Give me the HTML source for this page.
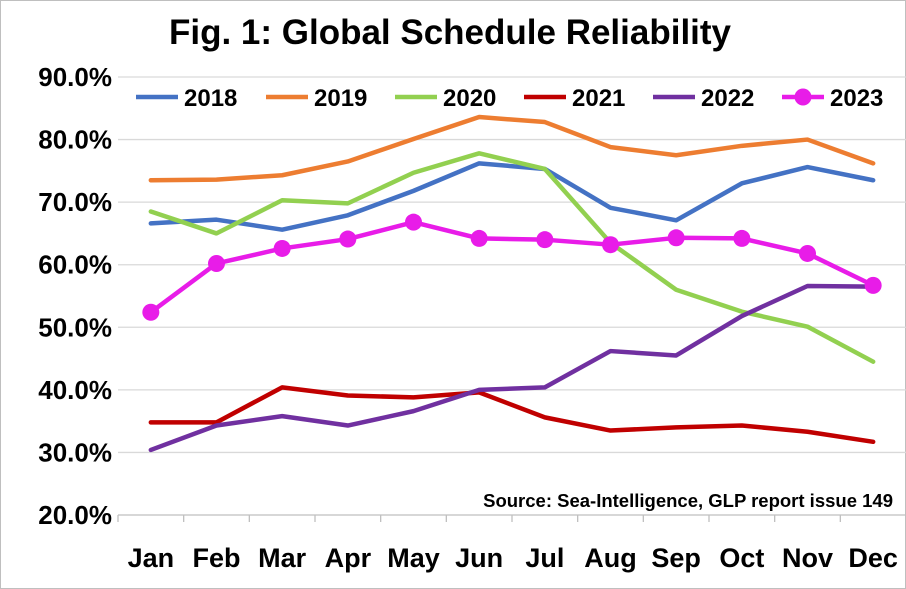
<!DOCTYPE html>
<html><head><meta charset="utf-8"><style>
html,body{margin:0;padding:0;background:#fff}
svg{display:block;font-family:"Liberation Sans",Arial,sans-serif}
</style></head><body>
<svg id="c" width="906" height="589" viewBox="0 0 906 589">
<rect x="0.5" y="0.5" width="905" height="588" fill="#fff" stroke="#bfbfbf"/>
<text x="450" y="44" text-anchor="middle" font-size="35" font-weight="bold" fill="#000">Fig. 1: Global Schedule Reliability</text>
<g id="grid"></g><g id="ylab"></g><g id="xlab"></g><g id="series"></g><g id="legend"></g>
<text x="893" y="507" text-anchor="end" font-size="18.5" font-weight="bold" fill="#000">Source: Sea-Intelligence, GLP report issue 149</text>
</svg>
<script>
const months=["Jan","Feb","Mar","Apr","May","Jun","Jul","Aug","Sep","Oct","Nov","Dec"];
const yTicks=[20,30,40,50,60,70,80,90];
const seriesNames=["2018","2019","2020","2021","2022","2023"];
const seriesColors=["#4472C4","#ED7D31","#92D050","#C00000","#7030A0","#E81CE8"];
const s2018=[66.6,67.2,65.6,67.9,71.8,76.2,75.3,69.1,67.1,73.0,75.6,73.5];
const s2019=[73.5,73.6,74.3,76.5,80.1,83.6,82.8,78.8,77.5,79.0,80.0,76.2];
const s2020=[68.5,65.0,70.3,69.8,74.7,77.8,75.3,63.5,56.0,52.5,50.1,44.5];
const s2021=[34.8,34.8,40.4,39.1,38.8,39.6,35.6,33.5,34.0,34.3,33.3,31.7];
const s2022=[30.4,34.3,35.8,34.3,36.6,40.0,40.4,46.2,45.5,51.8,56.6,56.5];
const s2023=[52.4,60.2,62.6,64.1,66.8,64.2,64.0,63.2,64.3,64.2,61.8,56.7];
const allSeries=[s2018,s2019,s2020,s2021,s2022,s2023];
const NS="http://www.w3.org/2000/svg";
const L=118,R=906,T=77,B=515;
const bw=(R-L)/months.length;
const x=i=>L+bw*(i+0.5);
const y=v=>B-(v-20)/70*(B-T);
function mk(tag,attrs,parent,txt){const e=document.createElementNS(NS,tag);for(const k in attrs)e.setAttribute(k,attrs[k]);if(txt!=null)e.textContent=txt;parent.appendChild(e);return e;}
const grid=document.getElementById('grid'),ylab=document.getElementById('ylab'),xlab=document.getElementById('xlab'),ser=document.getElementById('series'),leg=document.getElementById('legend');
yTicks.forEach(t=>{
 if(t>20){const g=mk('line',{x1:L,x2:R,y1:y(t),y2:y(t),stroke:'#d9d9d9','stroke-width':1.3},grid);
 
 }
 const tx=mk('text',{x:112,y:y(t)+9,'text-anchor':'end','font-size':26,'font-weight':'bold'},ylab,t.toFixed(1)+'%');
 
 
});
const ax=mk('line',{x1:L,x2:R,y1:B,y2:B,stroke:'#bfbfbf','stroke-width':1.3},grid);


months.forEach((m,i)=>{
 const tk=mk('line',{x1:L+bw*i,x2:L+bw*i,y1:B,y2:B+7,stroke:'#bfbfbf','stroke-width':1.3},grid);
 
 
 const tx=mk('text',{x:x(i),y:567,'text-anchor':'middle','font-size':27,'font-weight':'bold'},xlab,m);
 
 
});
allSeries.forEach((d,si)=>{
 const p=mk('polyline',{points:d.map((v,i)=>x(i)+','+y(v)).join(' '),fill:'none',stroke:seriesColors[si],'stroke-width':4.5,'stroke-linejoin':'round','stroke-linecap':'round'},ser);
 
 
 if(si===5)d.forEach((v,i)=>{const c=mk('circle',{cx:x(i),cy:y(v),r:8.5,fill:seriesColors[si]},ser);
 
 });
});
const lx=[136,266,395,524,653,782];
seriesNames.forEach((n,i)=>{
 const g=mk('g',{},leg);
 
 
 mk('line',{x1:lx[i],x2:lx[i]+42,y1:97,y2:97,stroke:seriesColors[i],'stroke-width':4.5},g);
 if(i===5)mk('circle',{cx:lx[i]+21,cy:97,r:8.5,fill:seriesColors[i]},g);
 mk('text',{x:lx[i]+48,y:106,'font-size':24,'font-weight':'bold'},g,n);
});
</script>
</body></html>
